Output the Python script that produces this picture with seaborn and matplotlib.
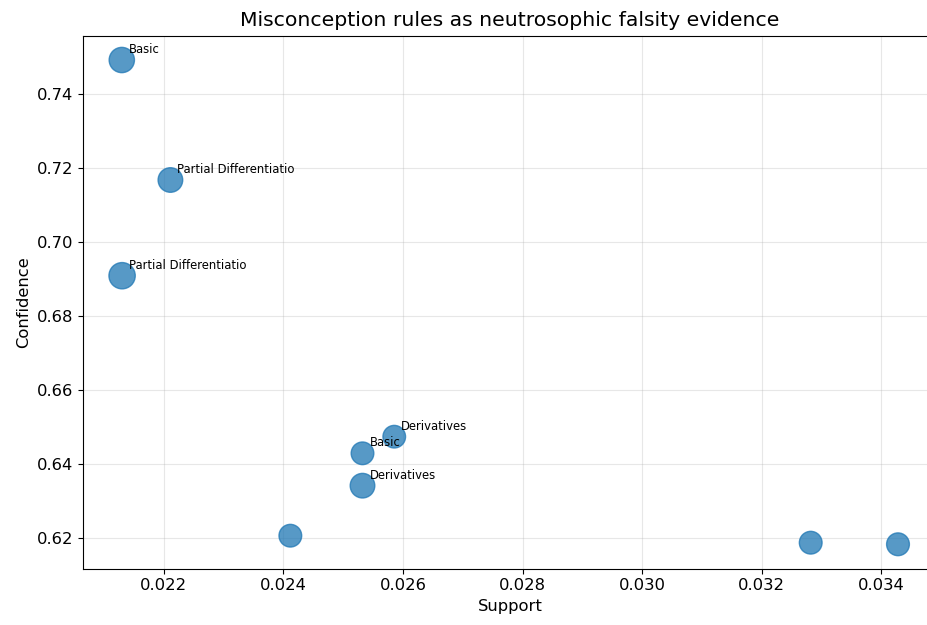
import matplotlib
matplotlib.use("Agg")
import matplotlib.pyplot as plt
import seaborn as sns
import pandas as pd

# Data
support = [0.021296, 0.022109, 0.021301, 0.025853, 0.025322, 0.025322, 0.024115, 0.032819, 0.034279]
confidence = [0.74927, 0.71684, 0.69097, 0.64746, 0.64297, 0.63422, 0.62070, 0.61881, 0.61838]
marker_size = [332, 314, 359, 265, 266, 314, 267, 268, 269]
labels = ["Basic", "Partial Differentiatio", "Partial Differentiatio",
          "Derivatives", "Basic", "Derivatives", "", "", ""]

df = pd.DataFrame({"Support": support, "Confidence": confidence, "msize": marker_size})

W, H, DPI = 928, 625, 100
fig = plt.figure(figsize=(W / DPI, H / DPI), dpi=DPI)
left, right, top, bottom = 83, 936.8, 35.8, 568.5
ax = fig.add_axes([left / W, 1 - bottom / H, (right - left) / W, (bottom - top) / H])

sns.scatterplot(data=df, x="Support", y="Confidence", size="msize",
                sizes={v: v for v in marker_size}, color="#1f77b4",
                alpha=0.75, edgecolor="#1f77b4", linewidth=1.0,
                legend=False, ax=ax, zorder=3)

for xs, ys, lab in zip(support, confidence, labels):
    if lab:
        ax.annotate(lab, (xs, ys), xytext=(5, 5), textcoords="offset points",
                    fontsize=8.4, color="black")

ax.margins(0.05)
ax.grid(True, alpha=0.3, zorder=0)
ax.set_axisbelow(True)
ax.set_title("Misconception rules as neutrosophic falsity evidence", fontsize=14.7, pad=7)
ax.set_xlabel("Support", fontsize=11.8)
ax.set_ylabel("Confidence", fontsize=11.8)
ax.tick_params(labelsize=11.8)
ax.set_xticks([0.022, 0.024, 0.026, 0.028, 0.030, 0.032, 0.034])
ax.set_yticks([0.62, 0.64, 0.66, 0.68, 0.70, 0.72, 0.74])
ax.set_xlim(0.020647, 0.034928)
ax.set_ylim(0.611835, 0.755815)

fig.savefig("out.png", dpi=DPI)
